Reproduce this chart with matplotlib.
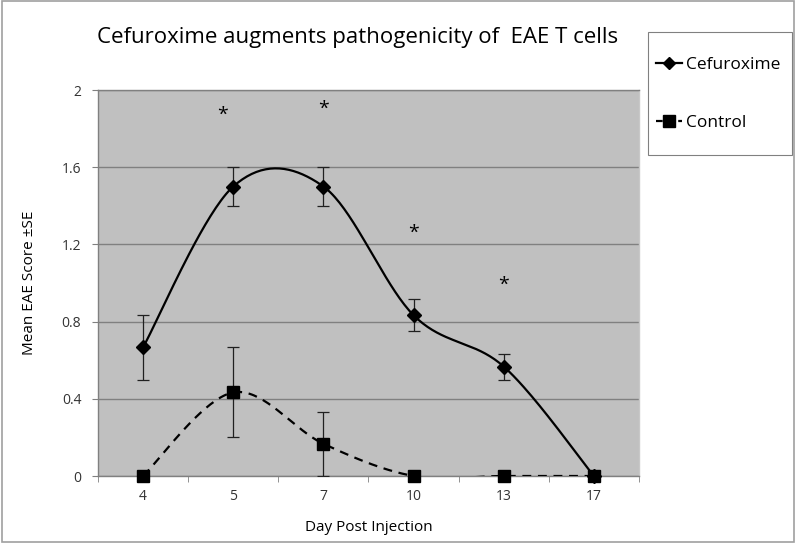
import numpy as np
import matplotlib
matplotlib.use('Agg')
import matplotlib.pyplot as plt
from matplotlib.lines import Line2D

## data
days = ['4', '5', '7', '10', '13', '17']
cefuroxime = [0.667, 1.5, 1.5, 0.833, 0.567, 0.0]
cefuroxime_se = [0.167, 0.1, 0.1, 0.083, 0.067, 0.0]
control = [0.0, 0.433, 0.167, 0.0, 0.0, 0.0]
control_se = [0.0, 0.233, 0.167, 0.0, 0.0, 0.0]
star_pos = [0.88, 2.0, 3.0, 4.0]
star_y = [1.87, 1.9, 1.26, 0.99]


def smooth(x, y, n=40):
    """Excel style smoothed line (bezier through points, catmull-rom tangents)"""
    x = np.asarray(x, float)
    y = np.asarray(y, float)
    xs, ys = [], []
    for i in range(len(x) - 1):
        i0 = max(i - 1, 0)
        i3 = min(i + 2, len(x) - 1)
        p0 = np.array([x[i], y[i]])
        p3 = np.array([x[i + 1], y[i + 1]])
        p1 = p0 + (p3 - np.array([x[i0], y[i0]])) / 6.0
        p2 = p3 - (np.array([x[i3], y[i3]]) - p0) / 6.0
        t = np.linspace(0, 1, n)[:, None]
        b = (1 - t)**3 * p0 + 3 * (1 - t)**2 * t * p1 + 3 * (1 - t) * t**2 * p2 + t**3 * p3
        xs.extend(b[:, 0])
        ys.extend(b[:, 1])
    return np.array(xs), np.array(ys)


plt.rcParams['font.family'] = ['Open Sans', 'DejaVu Sans']

fig = plt.figure(figsize=(7.96, 5.43), dpi=100)
ax = fig.add_axes([98/796, 1 - 476/543, 541/796, 386/543])
ax.set_facecolor('#c0c0c0')

xpos = np.arange(len(days))

xs, ys = smooth(xpos, cefuroxime)
ax.plot(xs, ys, color='black', lw=1.6, zorder=3)
xs, ys = smooth(xpos, control)
ax.plot(xs, ys, color='black', lw=1.6, ls=(0, (4, 3)), zorder=3)

ax.errorbar(xpos, cefuroxime, yerr=cefuroxime_se, fmt='none', ecolor='#202020',
            elinewidth=0.9, capsize=4, capthick=0.9, zorder=4)
ax.errorbar(xpos, control, yerr=control_se, fmt='none', ecolor='#202020',
            elinewidth=0.9, capsize=4, capthick=0.9, zorder=4)
ax.plot(xpos, cefuroxime, 'D', color='black', ms=7, zorder=5, clip_on=False)
ax.plot(xpos, control, 's', color='black', ms=9, zorder=5, clip_on=False)

for xp, yp in zip(star_pos, star_y):
    ax.text(xp, yp, '*', ha='center', va='center', fontsize=14)

ax.set_xlim(-0.5, len(days) - 0.5)
ax.set_ylim(0, 2)
ax.set_yticks([0, 0.4, 0.8, 1.2, 1.6, 2])
ax.set_yticklabels(['0', '0.4', '0.8', '1.2', '1.6', '2'])
ax.set_xticks(xpos)
ax.set_xticklabels(days)
ax.set_xticks(np.arange(-0.5, len(days)), minor=True)
ax.tick_params(axis='x', which='major', length=0, labelsize=10, pad=9)
ax.tick_params(axis='x', which='minor', length=4, color='#808080', direction='out')
ax.tick_params(axis='y', length=4, color='#808080', labelsize=10, pad=8, labelcolor='#333333')
ax.tick_params(axis='x', labelcolor='#333333')
ax.grid(axis='y', color='#808080', lw=1)
ax.set_axisbelow(True)
for s in ax.spines.values():
    s.set_color('#808080')
    s.set_linewidth(1)
ax.spines['right'].set_color('#c8c8c8')

ax.set_xlabel('Day Post Injection', fontsize=11, labelpad=12)
ax.set_ylabel('Mean EAE Score \u00b1SE', fontsize=11, labelpad=18)

fig.text(358/796, 1 - 37/543, 'Cefuroxime augments pathogenicity of  EAE T cells',
         ha='center', va='center', fontsize=16)

# legend box drawn separately so the entries can sit where they do in the original
fig.patches.append(plt.Rectangle((648/796, 1 - 155/543), 144/796, 123/543,
                                 transform=fig.transFigure, fill=False,
                                 edgecolor='#808080', lw=0.8))
handles = [Line2D([], [], color='black', lw=1.6, marker='D', ms=6),
           Line2D([], [], color='black', lw=1.6, ls=(0, (3, 2)), marker='s', ms=8)]
fig.legend(handles, ['Cefuroxime', 'Control'], loc='center left',
           bbox_to_anchor=(656/796, 1 - 94/543), fontsize=12.5, frameon=False,
           labelspacing=2.4, handlelength=1.5, handletextpad=0.2,
           borderpad=0, borderaxespad=0)

# outer border of the chart area
fig.patches.append(plt.Rectangle((0.002, 0.002), 0.996, 0.996, transform=fig.transFigure,
                                 fill=False, edgecolor='#a0a0a0', lw=1.2))

fig.savefig('out.png', dpi=100)
